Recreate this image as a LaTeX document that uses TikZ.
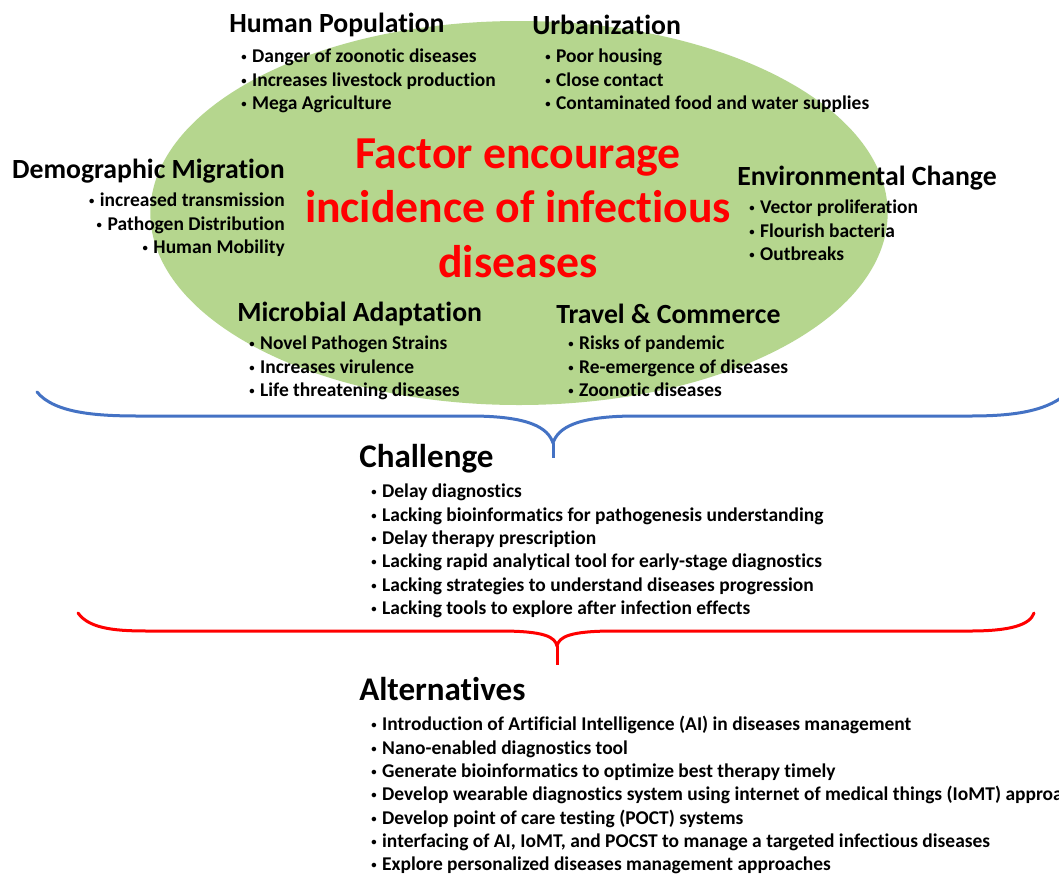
\documentclass[tikz,border=0pt]{standalone}
\usepackage{fontspec}
\setmainfont{Carlito}[Ligatures=CommonOff]
\usepackage{tikz}
\usetikzlibrary{shapes.geometric,positioning,calc}
\usepackage{xcolor}
\definecolor{leafgreen}{RGB}{181,214,142}
\definecolor{braceblue}{RGB}{68,114,196}
\tikzset{head/.style={anchor=west, inner sep=0pt, font=\bfseries\fontsize{20.8}{25}\selectfont},
	items/.style={anchor=north west, inner sep=0pt, align=left, font=\bfseries\fontsize{14.6}{17.5}\selectfont},
	bighead/.style={anchor=west, inner sep=0pt, font=\bfseries\fontsize{24.8}{29}\selectfont}
}
\newcommand{\itm}{\raisebox{1.5pt}{\fontsize{8}{8}\selectfont\textbullet}\hspace{4.2pt}}

\begin{document}
\begin{tikzpicture}[x=0.75pt,y=-0.75pt]
\tikzstyle{brace} = [line width=2.25pt, line cap=round, line join=round]
\useasboundingbox (0,0) rectangle (1059,875);
\fill[white] (0,0) rectangle (1059,875);

\node [ellipse, fill=leafgreen, minimum width=553pt, minimum height=288pt, inner sep=0pt] (fac) at (519,213) {};
\node [text=red, align=center, inner sep=0pt, font=\bfseries\fontsize{34.3}{41}\selectfont] (title) at (518,208) {Factor encourage\\incidence of infectious\\diseases};

% factor groups
\node [head] (hp) at (229,25) {Human Population};
\node [items] (hpl) at (241,49) {\itm Danger of zoonotic diseases\\\itm Increases livestock production\\\itm Mega Agriculture};

\node [head] (urb) at (532,25) {Urbanization};
\node [items] (urbl) at (545,49) {\itm Poor housing\\\itm Close contact\\\itm Contaminated food and water supplies};

\node [head, anchor=east] (dem) at (285,171) {Demographic Migration};
\node [items, anchor=north east, align=right] (deml) at (285,193) {\itm increased transmission\\\itm Pathogen Distribution\\\itm Human Mobility};

\node [head] (env) at (737,178) {Environmental Change};
\node [items] (envl) at (749,200) {\itm Vector proliferation\\\itm Flourish bacteria\\\itm Outbreaks};

\node [head] (mic) at (237,314) {Microbial Adaptation};
\node [items] (micl) at (249,336) {\itm Novel Pathogen Strains\\\itm Increases virulence\\\itm Life threatening diseases};

\node [head] (trav) at (556,314) {Travel \& Commerce};
\node [items] (travl) at (568,336) {\itm Risks of pandemic\\\itm Re-emergence of diseases\\\itm Zoonotic diseases};

% challenge and alternatives
\node [bighead] (chal) at (359,459) {Challenge};
\node [items] (chall) at (371,484) {\itm Delay diagnostics\\\itm Lacking bioinformatics for pathogenesis understanding\\\itm Delay therapy prescription\\\itm Lacking rapid analytical tool for early-stage diagnostics\\\itm Lacking strategies to understand diseases progression\\\itm Lacking tools to explore after infection effects};

\node [bighead] (alt) at (359,689) {Alternatives};
\node [items] (altl) at (371,716) {\itm Introduction of Artificial Intelligence (AI) in diseases management\\\itm Nano-enabled diagnostics tool\\\itm Generate bioinformatics to optimize best therapy timely\\\itm Develop wearable diagnostics system using internet of medical things (IoMT) approach\\\itm Develop point of care testing (POCT) systems\\\itm interfacing of AI, IoMT, and POCST to manage a targeted infectious diseases\\\itm Explore personalized diseases management approaches};

%Braces
\coordinate (btip) at (553,443);
\coordinate (rtip) at (557,646);
\draw[brace, braceblue] (37,392) .. controls (55,414) and (100,416) .. (140,416) -- (470,416) .. controls (530,416) and (548,428) .. (btip)
	.. controls (558,428) and (576,416) .. (636,416) -- (970,416) .. controls (1020,416) and (1055,410) .. (1075,385);
\draw[brace, braceblue, line cap=butt] (btip) -- (553,458);
\draw[brace, red] (78,613) .. controls (90,630) and (120,631) .. (150,631) -- (500,631) .. controls (545,631) and (555,637) .. (rtip)
	.. controls (559,637) and (569,631) .. (614,631) -- (970,631) .. controls (1010,631) and (1030,625) .. (1034,613);
\draw[brace, red, line cap=butt] (rtip) -- (557,665);
\end{tikzpicture}
\end{document}
